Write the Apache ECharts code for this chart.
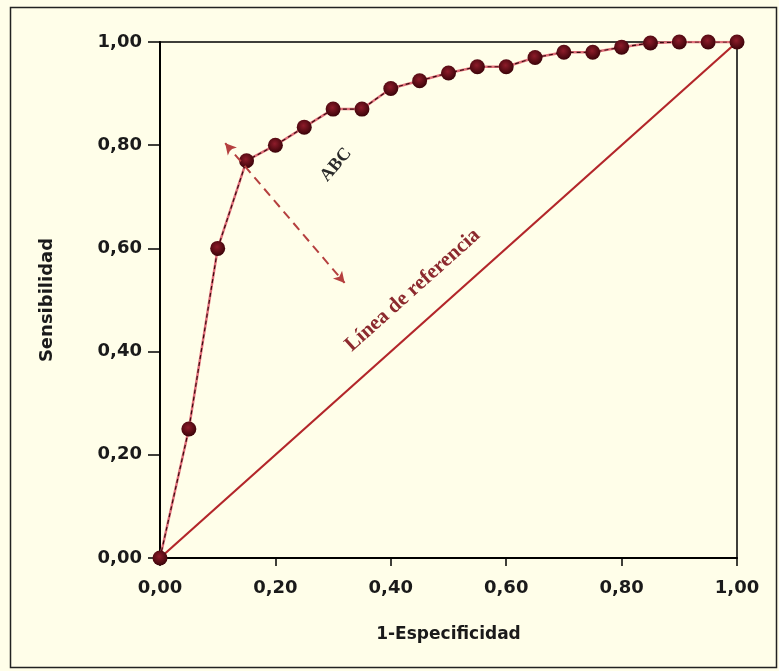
<!DOCTYPE html>
<html>
<head>
<meta charset="utf-8">
<script src="https://cdn.jsdelivr.net/npm/echarts@6/dist/echarts.min.js"></script>
<style>
html,body{margin:0;padding:0;background:#fffee9;}
#c{width:779px;height:671px;}
</style>
</head>
<body>
<div id="c"></div>
<script>
const fpr = [0, 0.05, 0.10, 0.15, 0.20, 0.25, 0.30, 0.35, 0.40, 0.45, 0.50, 0.55, 0.60, 0.65, 0.70, 0.75, 0.80, 0.85, 0.90, 0.95, 1.00];
const tpr = [0, 0.25, 0.60, 0.77, 0.80, 0.835, 0.87, 0.87, 0.91, 0.925, 0.94, 0.952, 0.952, 0.97, 0.98, 0.98, 0.99, 0.998, 1.00, 1.00, 1.00];
const refLine = [[0, 0], [1, 1]];
const arrowFrom = [0.113, 0.804];
const arrowTo = [0.32, 0.533];
const labelABC = {text: 'ABC', pos: [0.305, 0.762]};
const labelRef = {text: 'Línea de referencia', pos: [0.438, 0.519]};
const xName = '1-Especificidad';
const yName = 'Sensibilidad';

const fmt = v => v.toFixed(2).replace('.', ',');
const rocData = fpr.map((x, i) => [x, tpr[i]]);

const chart = echarts.init(document.getElementById('c'), null, {renderer: 'canvas'});
const sansBold = '"DejaVu Sans", sans-serif';
const tickFont = {fontFamily: sansBold, fontWeight: 'bold', fontSize: 18, color: '#1a1a1a'};

chart.setOption({
  backgroundColor: '#fffee9',
  animation: false,
  grid: {left: 160, right: 42, top: 42, bottom: 113, show: true, borderColor: '#000', borderWidth: 1.5, backgroundColor: 'transparent'},
  xAxis: {
    type: 'value', min: 0, max: 1, interval: 0.2,
    name: xName, nameLocation: 'middle', nameGap: 68,
    nameTextStyle: {fontFamily: sansBold, fontWeight: 'bold', fontSize: 17, color: '#1a1a1a'},
    axisLine: {show: true, lineStyle: {color: '#000', width: 2}},
    axisTick: {show: true, length: 8, lineStyle: {color: '#000', width: 1.5}},
    axisLabel: Object.assign({formatter: fmt, margin: 21}, tickFont),
    splitLine: {show: false}
  },
  yAxis: {
    type: 'value', min: 0, max: 1, interval: 0.2,
    name: yName, nameLocation: 'middle', nameGap: 104, nameRotate: 90,
    nameTextStyle: {fontFamily: sansBold, fontWeight: 'bold', fontSize: 18, color: '#1a1a1a'},
    axisLine: {show: true, lineStyle: {color: '#000', width: 2}},
    axisTick: {show: true, length: 12, lineStyle: {color: '#000', width: 1.5}},
    axisLabel: Object.assign({formatter: fmt, margin: 18}, tickFont),
    splitLine: {show: false}
  },
  series: [
    {
      type: 'line', data: refLine, symbol: 'none', silent: true,
      lineStyle: {color: '#b3262a', width: 2.2}, z: 2
    },
    {
      type: 'line', data: rocData, symbol: 'none', silent: true,
      lineStyle: {color: '#e0707a', width: 2.5}, z: 3,
      markLine: {
        silent: true, symbol: ['arrow', 'arrow'], symbolSize: [9, 11],
        lineStyle: {color: '#b5403f', type: [9, 6], width: 2},
        label: {show: false},
        data: [[{coord: arrowFrom}, {coord: arrowTo}]]
      }
    },
    {
      type: 'line', data: rocData, symbol: 'circle', symbolSize: 15, silent: true,
      lineStyle: {color: '#3a0a10', width: 1.2, type: [4, 3]}, z: 4,
      itemStyle: {
        color: {type: 'radial', x: 0.45, y: 0.4, r: 0.6, colorStops: [
          {offset: 0, color: '#8e1c2a'}, {offset: 1, color: '#3b0309'}]},
        borderWidth: 0
      }
    }
  ]
});

const pA = chart.convertToPixel({gridIndex: 0}, labelABC.pos);
const pR = chart.convertToPixel({gridIndex: 0}, labelRef.pos);
const o = chart.convertToPixel({gridIndex: 0}, [0, 0]);
const e = chart.convertToPixel({gridIndex: 0}, [1, 1]);
const ang = Math.atan2(o[1] - e[1], e[0] - o[0]);

chart.setOption({
  graphic: [
    {type: 'rect', shape: {x: 10.5, y: 7.5, width: 766, height: 660}, style: {fill: 'none', stroke: '#222', lineWidth: 1.5}, silent: true},
    {type: 'text', x: pA[0], y: pA[1], rotation: 50 * Math.PI / 180,
      style: {text: labelABC.text, fill: '#2a2a2a', font: 'bold 18px "Liberation Serif", "DejaVu Serif", serif', align: 'center', verticalAlign: 'middle'}},
    {type: 'text', x: pR[0], y: pR[1], rotation: ang,
      style: {text: labelRef.text, fill: '#8c2a2e', font: 'bold 21px "Liberation Serif", "DejaVu Serif", serif', align: 'center', verticalAlign: 'middle'}}
  ]
});
</script>
</body>
</html>
